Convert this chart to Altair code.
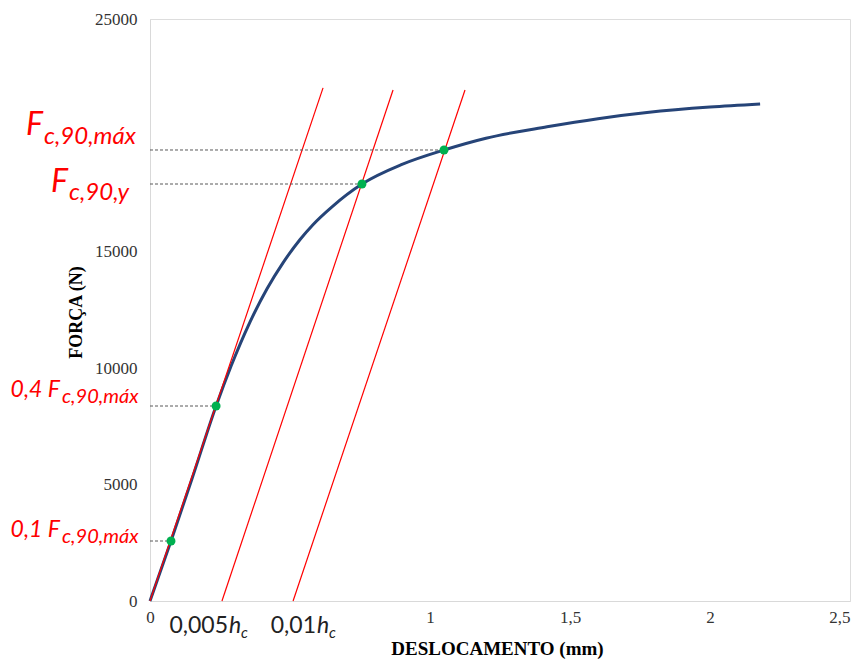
import altair as alt
import pandas as pd

# ---- data ----
curve_x = [0, 0.075, 0.15, 0.236, 0.29, 0.357, 0.418, 0.475, 0.536, 0.582,
           0.65, 0.757, 0.9, 1.05, 1.2, 1.418, 1.6, 1.775, 2.0, 2.179]
curve_y = [0, 2577, 5250, 8376, 10104, 11980, 13414, 14525, 15531, 16166,
           16934, 17912, 18755, 19373, 19880, 20370, 20718, 20980, 21216, 21349]

point_x = [0.075, 0.236, 0.757, 1.05]
point_y = [2577, 8376, 17912, 19373]

offset_x0 = [0, 0.257, 0.511]
offset_x1 = [0.618, 0.868, 1.125]
offset_y1 = [22040, 21950, 21950]

x_ticks = [0, 0.5, 1, 1.5, 2, 2.5]
y_ticks = [0, 5000, 10000, 15000, 20000, 25000]

curve_df = pd.DataFrame({"x": curve_x, "y": curve_y})
pts_df = pd.DataFrame({"x": point_x, "y": point_y, "x0": [0] * len(point_x)})
red_df = pd.DataFrame({"x": offset_x0, "y": [0] * len(offset_x0),
                       "x2": offset_x1, "y2": offset_y1})

xs = alt.Scale(domain=[0, 2.5], nice=False, zero=False)
ys = alt.Scale(domain=[0, 25000], nice=False)

serif = "Liberation Serif"

x_axis = alt.Axis(values=x_ticks, grid=False, ticks=False, domainColor="#d9d9d9",
                  labelFont=serif, labelFontSize=17, labelColor="#333333",
                  labelPadding=8, labelFlush=False,
                  labelAlign={"condition": {"test": "datum.value == 2.5", "value": "right"},
                              "value": "center"},
                  labelExpr="datum.value == 0.5 ? '' : replace(toString(datum.value), '.', ',')",
                  title="DESLOCAMENTO (mm)", titleFont=serif, titleFontSize=19,
                  titleFontWeight="bold", titleColor="#000000",
                  titleX=347, titleY=47, titleBaseline="middle", titleAlign="center")
y_axis = alt.Axis(values=y_ticks, grid=False, ticks=False, domainColor="#d9d9d9",
                  labelFont=serif, labelFontSize=17, labelColor="#333333",
                  labelPadding=13,
                  labelExpr="datum.value == 20000 ? '' : toString(datum.value)",
                  title="FORÇA (N)", titleFont=serif, titleFontSize=18,
                  titleFontWeight="bold", titleColor="#000000",
                  titleAngle=-90, titleX=-74, titleY=293,
                  titleBaseline="middle", titleAlign="center")

X = lambda f: alt.X(f, scale=xs, axis=x_axis)
Y = lambda f: alt.Y(f, scale=ys, axis=y_axis)

red = alt.Chart(red_df).mark_rule(color="#ff0000", strokeWidth=1.2).encode(
    x=X("x:Q"), y=Y("y:Q"), x2="x2:Q", y2="y2:Q")

dash = alt.Chart(pts_df).mark_rule(color="#595959", strokeWidth=1,
                                   strokeDash=[3, 2]).encode(
    x=X("x0:Q"), x2="x:Q", y=Y("y:Q"))

curve = alt.Chart(curve_df).mark_line(color="#264478", strokeWidth=3,
                                      interpolate="monotone").encode(
    x=X("x:Q"), y=Y("y:Q"))

dots = alt.Chart(pts_df).mark_circle(color="#00b050", opacity=1, size=80).encode(
    x=X("x:Q"), y=Y("y:Q"))


def label(text, px, py, size, color="#ff0000", style="italic", align="left",
          font="Lato"):
    return alt.Chart(pd.DataFrame({"t": [text]})).mark_text(
        font=font, fontSize=size, fontStyle=style, color=color,
        align=align, baseline="alphabetic").encode(
        text="t:N", x=alt.value(px), y=alt.value(py))


texts = [
    label("F", -107, 116, 32, align="right"),
    label("c,90,máx", -106, 125, 24),
    label("F", -82, 173, 32, align="right"),
    label("c,90,y", -81, 181, 24),
    label("0,4 F", -90, 378, 23, align="right"),
    label("c,90,máx", -88, 384, 20),
    label("0,1 F", -90, 518, 23, align="right"),
    label("c,90,máx", -88, 524, 20),
    label("0,005", 78, 614, 23, color="#222222", style="normal", align="right"),
    label("h", 79, 614, 23, color="#222222"),
    label("c", 91, 619, 15, color="#222222"),
    label("0,01", 166, 614, 23, color="#222222", style="normal", align="right"),
    label("h", 167, 614, 23, color="#222222"),
    label("c", 179, 619, 15, color="#222222"),
]

chart = alt.layer(curve, red, dash, dots, *texts).properties(
    width=700, height=582,
    autosize=alt.AutoSizeParams(type="none"),
    padding={"left": 142, "top": 11, "right": 7, "bottom": 58},
).configure_view(stroke="#d9d9d9", strokeWidth=1).configure(background="white")

chart.save("out.html", embed_options={"renderer": "svg", "actions": False})
